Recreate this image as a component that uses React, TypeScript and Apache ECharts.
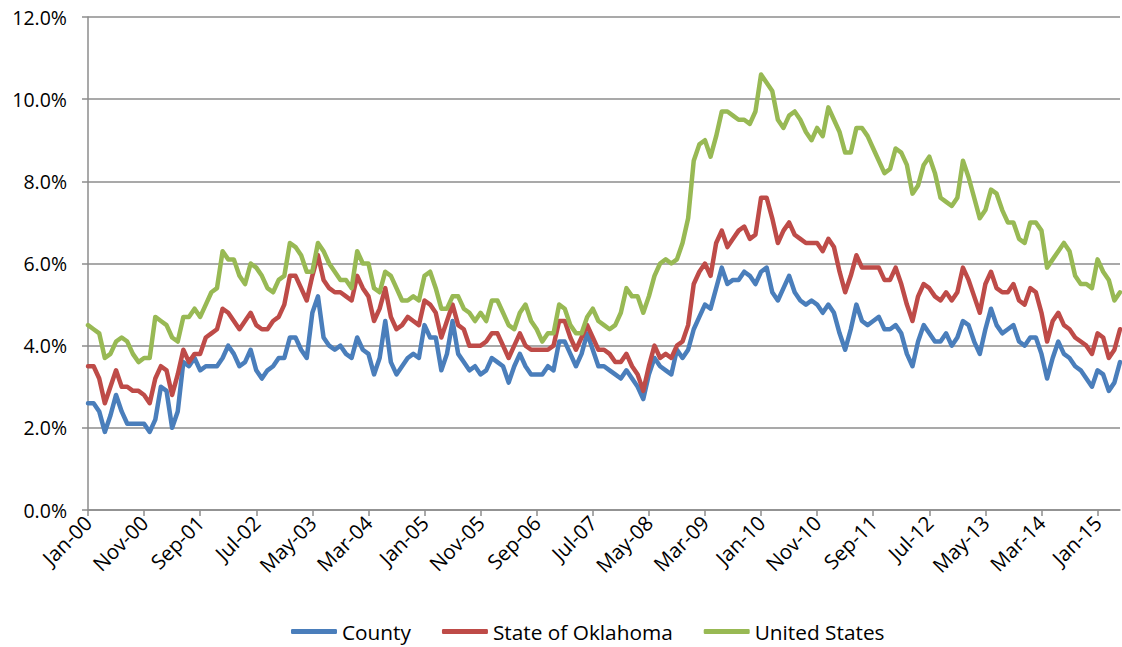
import React, { useEffect, useRef } from "react";
import * as echarts from "echarts";

const MONTHS = ["Jan", "Feb", "Mar", "Apr", "May", "Jun", "Jul", "Aug", "Sep", "Oct", "Nov", "Dec"];
const START_YEAR = 2000;
const N_POINTS = 185;

const county = [
  2.6, 2.6, 2.4, 1.9, 2.3, 2.8, 2.4, 2.1, 2.1, 2.1, 2.1, 1.9,
  2.2, 3.0, 2.9, 2.0, 2.4, 3.6, 3.5, 3.7, 3.4, 3.5, 3.5, 3.5,
  3.7, 4.0, 3.8, 3.5, 3.6, 3.9, 3.4, 3.2, 3.4, 3.5, 3.7, 3.7,
  4.2, 4.2, 3.9, 3.7, 4.8, 5.2, 4.2, 4.0, 3.9, 4.0, 3.8, 3.7,
  4.2, 3.9, 3.8, 3.3, 3.7, 4.6, 3.6, 3.3, 3.5, 3.7, 3.8, 3.7,
  4.5, 4.2, 4.2, 3.4, 3.8, 4.6, 3.8, 3.6, 3.4, 3.5, 3.3, 3.4,
  3.7, 3.6, 3.5, 3.1, 3.5, 3.8, 3.5, 3.3, 3.3, 3.3, 3.5, 3.4,
  4.1, 4.1, 3.8, 3.5, 3.8, 4.3, 3.9, 3.5, 3.5, 3.4, 3.3, 3.2,
  3.4, 3.2, 3.0, 2.7, 3.3, 3.7, 3.5, 3.4, 3.3, 3.9, 3.7, 3.9,
  4.4, 4.7, 5.0, 4.9, 5.4, 5.9, 5.5, 5.6, 5.6, 5.8, 5.7, 5.5,
  5.8, 5.9, 5.3, 5.1, 5.4, 5.7, 5.3, 5.1, 5.0, 5.1, 5.0, 4.8,
  5.0, 4.8, 4.3, 3.9, 4.4, 5.0, 4.6, 4.5, 4.6, 4.7, 4.4, 4.4,
  4.5, 4.3, 3.8, 3.5, 4.1, 4.5, 4.3, 4.1, 4.1, 4.3, 4.0, 4.2,
  4.6, 4.5, 4.1, 3.8, 4.4, 4.9, 4.5, 4.3, 4.4, 4.5, 4.1, 4.0,
  4.2, 4.2, 3.8, 3.2, 3.7, 4.1, 3.8, 3.7, 3.5, 3.4, 3.2, 3.0,
  3.4, 3.3, 2.9, 3.1, 3.6,
];

const oklahoma = [
  3.5, 3.5, 3.2, 2.6, 3.0, 3.4, 3.0, 3.0, 2.9, 2.9, 2.8, 2.6,
  3.2, 3.5, 3.4, 2.8, 3.3, 3.9, 3.6, 3.8, 3.8, 4.2, 4.3, 4.4,
  4.9, 4.8, 4.6, 4.4, 4.6, 4.8, 4.5, 4.4, 4.4, 4.6, 4.7, 5.0,
  5.7, 5.7, 5.4, 5.1, 5.7, 6.2, 5.6, 5.4, 5.3, 5.3, 5.2, 5.1,
  5.7, 5.4, 5.2, 4.6, 4.9, 5.4, 4.7, 4.4, 4.5, 4.7, 4.6, 4.5,
  5.1, 5.0, 4.8, 4.2, 4.6, 5.0, 4.5, 4.4, 4.0, 4.0, 4.0, 4.1,
  4.3, 4.3, 4.0, 3.7, 4.0, 4.3, 4.0, 3.9, 3.9, 3.9, 3.9, 4.0,
  4.6, 4.6, 4.2, 3.9, 4.2, 4.5, 4.2, 3.9, 3.9, 3.8, 3.6, 3.6,
  3.8, 3.5, 3.3, 2.9, 3.5, 4.0, 3.7, 3.8, 3.7, 4.0, 4.1, 4.5,
  5.5, 5.8, 6.0, 5.7, 6.5, 6.8, 6.4, 6.6, 6.8, 6.9, 6.6, 6.7,
  7.6, 7.6, 7.1, 6.5, 6.8, 7.0, 6.7, 6.6, 6.5, 6.5, 6.5, 6.3,
  6.6, 6.4, 5.8, 5.3, 5.7, 6.2, 5.9, 5.9, 5.9, 5.9, 5.6, 5.6,
  5.9, 5.5, 5.0, 4.6, 5.2, 5.5, 5.4, 5.2, 5.1, 5.3, 5.1, 5.3,
  5.9, 5.6, 5.2, 4.8, 5.5, 5.8, 5.4, 5.3, 5.3, 5.5, 5.1, 5.0,
  5.4, 5.3, 4.8, 4.1, 4.6, 4.8, 4.5, 4.4, 4.2, 4.1, 4.0, 3.8,
  4.3, 4.2, 3.7, 3.9, 4.4,
];

const unitedStates = [
  4.5, 4.4, 4.3, 3.7, 3.8, 4.1, 4.2, 4.1, 3.8, 3.6, 3.7, 3.7,
  4.7, 4.6, 4.5, 4.2, 4.1, 4.7, 4.7, 4.9, 4.7, 5.0, 5.3, 5.4,
  6.3, 6.1, 6.1, 5.7, 5.5, 6.0, 5.9, 5.7, 5.4, 5.3, 5.6, 5.7,
  6.5, 6.4, 6.2, 5.8, 5.8, 6.5, 6.3, 6.0, 5.8, 5.6, 5.6, 5.4,
  6.3, 6.0, 6.0, 5.4, 5.3, 5.8, 5.7, 5.4, 5.1, 5.1, 5.2, 5.1,
  5.7, 5.8, 5.4, 4.9, 4.9, 5.2, 5.2, 4.9, 4.8, 4.6, 4.8, 4.6,
  5.1, 5.1, 4.8, 4.5, 4.4, 4.8, 5.0, 4.6, 4.4, 4.1, 4.3, 4.3,
  5.0, 4.9, 4.5, 4.3, 4.3, 4.7, 4.9, 4.6, 4.5, 4.4, 4.5, 4.8,
  5.4, 5.2, 5.2, 4.8, 5.2, 5.7, 6.0, 6.1, 6.0, 6.1, 6.5, 7.1,
  8.5, 8.9, 9.0, 8.6, 9.1, 9.7, 9.7, 9.6, 9.5, 9.5, 9.4, 9.7,
  10.6, 10.4, 10.2, 9.5, 9.3, 9.6, 9.7, 9.5, 9.2, 9.0, 9.3, 9.1,
  9.8, 9.5, 9.2, 8.7, 8.7, 9.3, 9.3, 9.1, 8.8, 8.5, 8.2, 8.3,
  8.8, 8.7, 8.4, 7.7, 7.9, 8.4, 8.6, 8.2, 7.6, 7.5, 7.4, 7.6,
  8.5, 8.1, 7.6, 7.1, 7.3, 7.8, 7.7, 7.3, 7.0, 7.0, 6.6, 6.5,
  7.0, 7.0, 6.8, 5.9, 6.1, 6.3, 6.5, 6.3, 5.7, 5.5, 5.5, 5.4,
  6.1, 5.8, 5.6, 5.1, 5.3,
];

const categories: string[] = [];
for (let i = 0; i < N_POINTS; i++) {
  const y = START_YEAR + Math.floor(i / 12);
  categories.push(MONTHS[i % 12] + "-" + String(y % 100).padStart(2, "0"));
}

const FONT = "Open Sans";
const GRID_COLOR = "#8c8c8c";

export default function App() {
  const ref = useRef<HTMLDivElement>(null);
  useEffect(() => {
    if (!ref.current) return;
    const chart = echarts.init(ref.current, undefined, { renderer: "svg" });
    const lineSeries = (name: string, data: number[], color: string) => ({
      name,
      type: "line",
      data,
      symbol: "none",
      smooth: false,
      color,
      lineStyle: { width: 4.5, color, join: "round", cap: "round" },
      emphasis: { disabled: true },
    });
    chart.setOption({
      animation: false,
      backgroundColor: "#ffffff",
      textStyle: { fontFamily: FONT },
      grid: { left: 88, right: 2, top: 17, bottom: 137, containLabel: false },
      xAxis: {
        type: "category",
        data: categories,
        boundaryGap: false,
        axisLine: { show: true, lineStyle: { color: GRID_COLOR, width: 1.5 } },
        axisTick: { show: true, interval: 9, length: 6, inside: false, lineStyle: { color: GRID_COLOR, width: 1.5 } },
        axisLabel: {
          interval: 9,
          rotate: 45,
          margin: 9,
          color: "#000",
          fontFamily: FONT,
          fontSize: 20.5,
        },
        splitLine: { show: false },
      },
      yAxis: {
        type: "value",
        min: 0,
        max: 12,
        interval: 2,
        axisLine: { show: true, lineStyle: { color: GRID_COLOR, width: 1.5 } },
        axisTick: { show: true, length: 6, lineStyle: { color: GRID_COLOR, width: 1.5 } },
        axisLabel: {
          margin: 21,
          color: "#000",
          fontFamily: FONT,
          fontSize: 19.5,
          formatter: (v: number) => v.toFixed(1) + "%",
        },
        splitLine: { show: true, lineStyle: { color: GRID_COLOR, width: 1.5 } },
      },
      legend: {
        show: true,
        bottom: 0,
        left: 286,
        icon: "roundRect",
        itemWidth: 46,
        itemHeight: 5,
        itemGap: 31,
        textStyle: { color: "#000", fontFamily: FONT, fontSize: 20.8 },
        data: ["County", "State of Oklahoma", "United States"],
      },
      series: [
        lineSeries("County", county, "#4A7EBB"),
        lineSeries("State of Oklahoma", oklahoma, "#BE4B48"),
        lineSeries("United States", unitedStates, "#98B954"),
      ],
    });
    return () => chart.dispose();
  }, []);
  return (
    <div
      ref={ref}
      style={{ position: "absolute", left: 0, top: 0, width: 1122, height: 647 }}
    />
  );
}
